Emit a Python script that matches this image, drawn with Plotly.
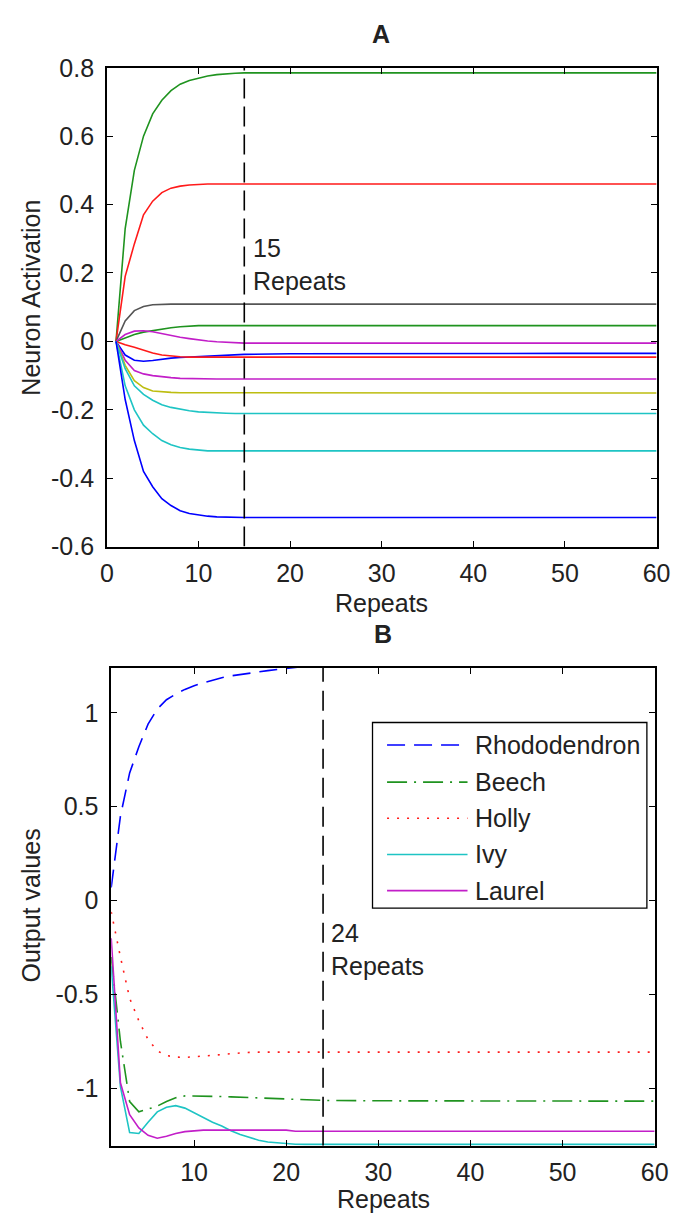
import plotly.graph_objects as go

W, H = 689, 1232

# ---------------- Panel A data ----------------
repeats_a = [1, 2, 3, 4, 5, 6, 7, 8, 9, 10, 11, 12, 13, 14, 15, 20, 30, 40, 50, 60]
a_green_hi = [0, 0.33, 0.50, 0.60, 0.665, 0.705, 0.733, 0.752, 0.763, 0.770, 0.776, 0.780, 0.783, 0.784, 0.785, 0.785, 0.785, 0.785, 0.785, 0.785]
a_red_hi = [0, 0.19, 0.285, 0.37, 0.41, 0.435, 0.448, 0.454, 0.457, 0.459, 0.46, 0.46, 0.46, 0.46, 0.46, 0.46, 0.46, 0.46, 0.46, 0.46]
a_gray = [0, 0.06, 0.09, 0.102, 0.107, 0.109, 0.109, 0.109, 0.109, 0.109, 0.109, 0.109, 0.109, 0.109, 0.109, 0.109, 0.109, 0.109, 0.109, 0.109]
a_green_lo = [0, 0.01, 0.02, 0.027, 0.032, 0.036, 0.040, 0.043, 0.045, 0.046, 0.046, 0.046, 0.046, 0.046, 0.046, 0.046, 0.046, 0.046, 0.046, 0.046]
a_magenta_hi = [0, 0.02, 0.03, 0.031, 0.028, 0.022, 0.017, 0.012, 0.008, 0.004, 0.001, -0.001, -0.003, -0.004, -0.005, -0.005, -0.005, -0.005, -0.005, -0.005]
a_blue_mid = [0, -0.04, -0.055, -0.058, -0.056, -0.052, -0.049, -0.047, -0.046, -0.045, -0.044, -0.043, -0.040, -0.039, -0.038, -0.036, -0.035, -0.035, -0.035, -0.035]
a_red_lo = [0, -0.01, -0.017, -0.026, -0.034, -0.040, -0.043, -0.045, -0.046, -0.046, -0.046, -0.046, -0.046, -0.046, -0.046, -0.046, -0.046, -0.046, -0.046, -0.046]
a_magenta_lo = [0, -0.055, -0.085, -0.095, -0.100, -0.104, -0.106, -0.108, -0.109, -0.110, -0.110, -0.110, -0.110, -0.110, -0.110, -0.110, -0.110, -0.110, -0.110, -0.110]
a_yellow = [0, -0.07, -0.115, -0.135, -0.145, -0.148, -0.149, -0.150, -0.150, -0.150, -0.150, -0.151, -0.151, -0.151, -0.151, -0.151, -0.151, -0.151, -0.151, -0.151]
a_cyan_hi = [0, -0.08, -0.13, -0.155, -0.172, -0.185, -0.193, -0.199, -0.203, -0.206, -0.208, -0.210, -0.210, -0.211, -0.211, -0.211, -0.211, -0.211, -0.211, -0.211]
a_cyan_lo = [0, -0.13, -0.20, -0.245, -0.27, -0.29, -0.302, -0.310, -0.315, -0.318, -0.320, -0.320, -0.320, -0.320, -0.320, -0.320, -0.320, -0.320, -0.320, -0.320]
a_blue_lo = [0, -0.17, -0.29, -0.38, -0.425, -0.46, -0.48, -0.495, -0.503, -0.508, -0.511, -0.513, -0.514, -0.515, -0.515, -0.515, -0.515, -0.515, -0.515, -0.515]
a_mark = 15
a_xticks = [0, 10, 20, 30, 40, 50, 60]
a_xticktext = ["0", "10", "20", "30", "40", "50", "60"]
a_yticks = [-0.6, -0.4, -0.2, 0, 0.2, 0.4, 0.6, 0.8]
a_yticktext = ["-0.6", "-0.4", "-0.2", "0", "0.2", "0.4", "0.6", "0.8"]
a_xrange = [0, 60]
a_yrange = [-0.6, 0.8]

# ---------------- Panel B data ----------------
repeats_b = list(range(1, 25)) + [30, 40, 50, 60]
b_rhododendron = [0.07, 0.45, 0.68, 0.82, 0.94, 1.02, 1.07, 1.10, 1.125, 1.145, 1.16, 1.175, 1.187, 1.197, 1.205, 1.212, 1.218, 1.225, 1.231, 1.238, 1.243, 1.248, 1.252, 1.256, 1.27, 1.29, 1.30, 1.31]
b_beech = [-0.30, -0.75, -1.07, -1.125, -1.11, -1.094, -1.07, -1.05, -1.04, -1.04, -1.04, -1.042, -1.043, -1.045, -1.047, -1.049, -1.05, -1.052, -1.054, -1.056, -1.058, -1.06, -1.062, -1.064, -1.066, -1.067, -1.068, -1.068]
b_holly = [-0.06, -0.30, -0.52, -0.64, -0.74, -0.80, -0.825, -0.833, -0.835, -0.832, -0.828, -0.824, -0.82, -0.815, -0.81, -0.808, -0.807, -0.807, -0.807, -0.807, -0.807, -0.807, -0.807, -0.807, -0.807, -0.807, -0.807, -0.807]
b_ivy = [-0.35, -0.99, -1.235, -1.24, -1.18, -1.125, -1.10, -1.092, -1.105, -1.13, -1.155, -1.18, -1.20, -1.225, -1.245, -1.262, -1.276, -1.285, -1.29, -1.294, -1.297, -1.298, -1.298, -1.298, -1.298, -1.298, -1.298, -1.298]
b_laurel = [-0.20, -0.97, -1.14, -1.21, -1.25, -1.265, -1.255, -1.24, -1.23, -1.225, -1.222, -1.222, -1.222, -1.222, -1.222, -1.222, -1.222, -1.222, -1.222, -1.222, -1.228, -1.228, -1.228, -1.228, -1.228, -1.228, -1.228, -1.228]
b_mark = 24
b_names = ["Rhododendron", "Beech", "Holly", "Ivy", "Laurel"]
b_xticks = [10, 20, 30, 40, 50, 60]
b_xticktext = ["10", "20", "30", "40", "50", "60"]
b_yticks = [-1, -0.5, 0, 0.5, 1]
b_yticktext = ["-1", "-0.5", "0", "0.5", "1"]
b_xrange = [1, 60]
b_yrange = [-1.305, 1.24]

# ---------------- styles ----------------
FONT = "Liberation Sans, Arial, sans-serif"
FS = 25
BLUE, GREEN, RED, CYAN, MAGENTA, YELLOW, GRAY = "#0000ff", "#1f931f", "#ff1a1a", "#1ec4c4", "#c21ec8", "#bdbd10", "#555555"
LW = 1.6


def px(x):
    return x / W


def py(y):
    return 1 - y / H


fig = go.Figure()

a_series = [
    (a_green_hi, GREEN), (a_red_hi, RED), (a_gray, GRAY), (a_green_lo, GREEN),
    (a_magenta_hi, MAGENTA), (a_blue_mid, BLUE), (a_red_lo, RED), (a_magenta_lo, MAGENTA),
    (a_yellow, YELLOW), (a_cyan_hi, CYAN), (a_cyan_lo, CYAN), (a_blue_lo, BLUE),
]
for ys, c in a_series:
    fig.add_trace(go.Scatter(x=repeats_a, y=ys, mode="lines", line=dict(color=c, width=LW),
                             xaxis="x", yaxis="y", showlegend=False, hoverinfo="skip"))
fig.add_trace(go.Scatter(x=[a_mark, a_mark], y=a_yrange, mode="lines",
                         line=dict(color="black", width=1.6, dash="20px,8px"),
                         xaxis="x", yaxis="y", showlegend=False, hoverinfo="skip"))

b_styles = [
    (b_rhododendron, BLUE, "18px,9px"),
    (b_beech, GREEN, "20px,7px,2px,7px"),
    (b_holly, RED, "2px,8px"),
    (b_ivy, CYAN, "solid"),
    (b_laurel, MAGENTA, "solid"),
]
for (ys, c, d), nm in zip(b_styles, b_names):
    fig.add_trace(go.Scatter(x=repeats_b, y=ys, mode="lines", name=nm,
                             line=dict(color=c, width=LW, dash=d),
                             xaxis="x2", yaxis="y2", showlegend=False, hoverinfo="skip"))
fig.add_trace(go.Scatter(x=[b_mark, b_mark], y=b_yrange, mode="lines",
                         line=dict(color="black", width=1.6, dash="20px,9px"),
                         xaxis="x2", yaxis="y2", showlegend=False, hoverinfo="skip"))

axis_common = dict(showline=True, linecolor="black", linewidth=1.5, mirror="ticks",
                   ticks="inside", ticklen=6, tickwidth=1.3, tickcolor="black",
                   showgrid=False, zeroline=False,
                   tickfont=dict(family=FONT, size=FS, color="#222222"))

fig.update_layout(
    width=W, height=H,
    margin=dict(l=0, r=0, t=0, b=0),
    paper_bgcolor="white", plot_bgcolor="white",
    font=dict(family=FONT, size=FS, color="#222222"),
    xaxis=dict(domain=[px(103), px(670)], range=a_xrange, anchor="y",
               tickmode="array", tickvals=a_xticks, ticktext=a_xticktext,
               ticklabelstandoff=4, **axis_common),
    yaxis=dict(domain=[py(545), py(55)], range=a_yrange, anchor="x",
               tickmode="array", tickvals=a_yticks, ticktext=a_yticktext,
               ticklabelstandoff=6, **axis_common),
    xaxis2=dict(domain=[px(107.5), px(668)], range=b_xrange, anchor="y2",
                tickmode="array", tickvals=b_xticks, ticktext=b_xticktext,
                ticklabelstandoff=4, **axis_common),
    yaxis2=dict(domain=[py(1158), py(669)], range=b_yrange, anchor="x2",
                tickmode="array", tickvals=b_yticks, ticktext=b_yticktext,
                ticklabelstandoff=6, **axis_common),
)

ann = []
tfont = dict(family=FONT, size=FS, color="#222222")
# titles
ann.append(dict(text="<b>A</b>", x=px(386), y=py(20), xref="paper", yref="paper",
                showarrow=False, font=tfont, xanchor="center", yanchor="middle"))
ann.append(dict(text="<b>B</b>", x=px(388), y=py(634), xref="paper", yref="paper",
                showarrow=False, font=tfont, xanchor="center", yanchor="middle"))
# axis titles
ann.append(dict(text="Repeats", x=px(386), y=py(603), xref="paper", yref="paper",
                showarrow=False, font=tfont, xanchor="center", yanchor="middle"))
ann.append(dict(text="Repeats", x=px(388), y=py(1213), xref="paper", yref="paper",
                showarrow=False, font=tfont, xanchor="center", yanchor="middle"))
ann.append(dict(text="Neuron Activation", x=px(25), y=py(290), xref="paper", yref="paper",
                showarrow=False, font=tfont, textangle=-90, xanchor="center", yanchor="middle"))
ann.append(dict(text="Output values", x=px(25), y=py(912), xref="paper", yref="paper",
                showarrow=False, font=tfont, textangle=-90, xanchor="center", yanchor="middle"))
# in-plot labels
ann.append(dict(text="15<br>Repeats", x=15.75, y=0.225, xref="x", yref="y",
                showarrow=False, font=tfont, xanchor="left", yanchor="middle", align="left"))
ann.append(dict(text="24<br>Repeats", x=24.6, y=-0.26, xref="x2", yref="y2",
                showarrow=False, font=tfont, xanchor="left", yanchor="middle", align="left"))

# manual legend for panel B
shapes = [dict(type="rect", xref="paper", yref="paper", x0=px(377), x1=px(660), y0=py(915), y1=py(725),
               line=dict(color="black", width=1.3), fillcolor="white", layer="above")]
row_y = [748, 786, 823, 860, 897]
for (ys, c, d), nm, ry in zip(b_styles, b_names, row_y):
    shapes.append(dict(type="line", xref="paper", yref="paper", x0=px(392), x1=px(475), y0=py(ry), y1=py(ry),
                       line=dict(color=c, width=LW, dash=d), layer="above"))
    ann.append(dict(text=nm, x=px(481), y=py(ry), xref="paper", yref="paper", showarrow=False,
                    font=tfont, xanchor="left", yanchor="middle"))

fig.update_layout(annotations=ann, shapes=shapes)
fig.write_html("out.html")
